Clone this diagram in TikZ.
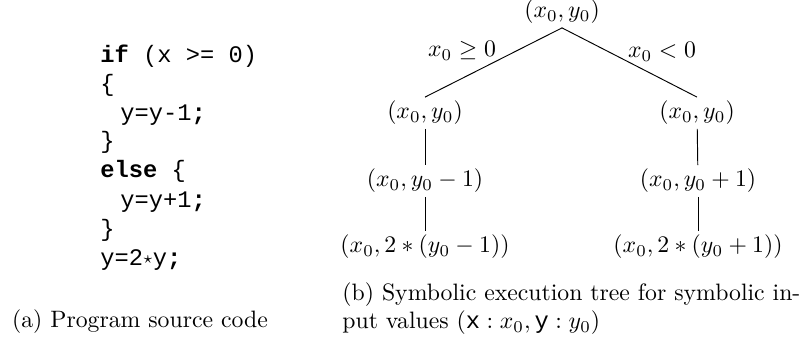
\documentclass[tikz,border=0pt]{standalone}
\usepackage{fontspec}
\setmonofont{Liberation Mono}
\usepackage{amssymb}
\begin{document}
\begin{tikzpicture}[x=0.4215pt,y=-0.4215pt,
  codeline/.style={anchor=base west,inner sep=0pt,font=\ttfamily},
  state/.style={inner sep=1.5pt},
  elabel/.style={inner sep=0pt}]
\useasboundingbox (0,0) rectangle (803,342);
% source code
\node[codeline] (c1) at (100,63) {\textbf{if} (x >= 0)};
\node[codeline] (c2) at (100,92) {\{};
\node[codeline] (c3) at (120,121) {y=y-1\textbf{;}};
\node[codeline] (c4) at (100,149) {\}};
\node[codeline] (c5) at (100,178) {\textbf{else} \{};
\node[codeline] (c6) at (120,207) {y=y+1\textbf{;}};
\node[codeline] (c7) at (100,236) {\}};
\node[codeline] (c8) at (100,265) {y=2\raisebox{0.15ex}{$\scriptstyle\star$}y\textbf{;}};
% tree
\node[state] (r)  at (562,12)  {$(x_0,y_0)$};
\node[state] (l1) at (425,113) {$(x_0,y_0)$};
\node[state] (r1) at (697,113) {$(x_0,y_0)$};
\node[state] (l2) at (425,181) {$(x_0,y_0-1)$};
\node[state] (r2) at (698,181) {$(x_0,y_0+1)$};
\node[state] (l3) at (425,247) {$(x_0,2*(y_0-1))$};
\node[state] (r3) at (698,247) {$(x_0,2*(y_0+1))$};
\node[elabel] (la) at (462,51) {$x_0\geq 0$};
\node[elabel] (lb) at (662,52) {$x_0<0$};
\draw (r.south) -- (l1.north);
\draw (r.south) -- (r1.north);
\draw (l1) -- (l2);
\draw (l2) -- (l3);
\draw (r1) -- (r2);
\draw (r2) -- (r3);
% captions
\node[inner sep=0pt,anchor=base] (capa) at (140,327) {(a) Program source code};
\node[inner sep=0pt,anchor=base west,text width=193pt,align=justify] (capb) at (342,300)
  {(b) Symbolic execution tree for symbolic in-\linebreak put values $(\mathtt{x}:x_0,\mathtt{y}:y_0)$};
\end{tikzpicture}
\end{document}
